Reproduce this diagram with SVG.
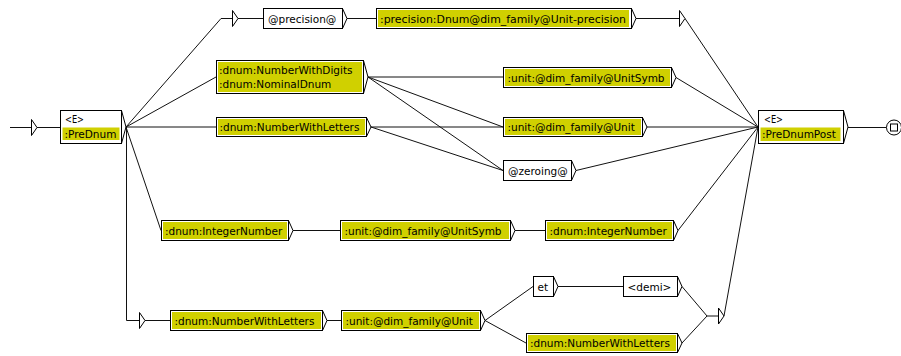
<svg xmlns="http://www.w3.org/2000/svg" width="901" height="356" viewBox="0 0 901 356">
<style>
.bx{fill:#fff;stroke:#000;stroke-width:1}
.ch{fill:none;stroke:#000;stroke-width:1}
.hl{fill:#d0d000}
.t{font-family:"DejaVu Sans",sans-serif;font-size:10.5px;fill:#000}
.e{fill:none;stroke:#111;stroke-width:1}
.tri{fill:#fff;stroke:#000;stroke-width:1}
</style>
<rect width="901" height="356" fill="#fff"/>
<g id="connectors" class="e">
<path d="M10,127.5 H31"/>
<path d="M37,127.5 H60"/>
<path d="M126,127 L221,18.5 H232"/>
<path d="M238,18.5 H263"/>
<path d="M347,18.5 H376"/>
<path d="M636,18.5 H679"/>
<path d="M685,18.5 L758,127"/>
<path d="M126,127 L216,77"/>
<path d="M126,127 H216"/>
<path d="M126,127 L161,230.5"/>
<path d="M126.5,127 V320.5 H139"/>
<path d="M145,320.5 H170"/>
<path d="M368,77 H503"/>
<path d="M368,77 L503,127"/>
<path d="M368,77 L503,170.5"/>
<path d="M371,127 H503"/>
<path d="M371,127 L503,170.5"/>
<path d="M676,77.5 L758,127"/>
<path d="M647,127 H758"/>
<path d="M576,170.5 L758,127"/>
<path d="M293,230.5 H340"/>
<path d="M515,230.5 H545"/>
<path d="M678,230.5 L758,127"/>
<path d="M327,320.5 H341"/>
<path d="M485,320.5 L533,286.5"/>
<path d="M485,320.5 L526,343"/>
<path d="M558,286.5 H623"/>
<path d="M682,286.5 L707,316 H718"/>
<path d="M682,343 L707,316"/>
<path d="M724,316 L758,127"/>
<path d="M848,127.5 H886.5"/>
</g>
<g id="init">
<polygon class="tri" points="31.5,119.5 37,127.5 31.5,135.5"/>
</g>
<g id="n_PreDnum">
<rect class="bx" x="60.5" y="110.5" width="61" height="33"/>
<path class="ch" d="M121.5,110.5 L126,127 L121.5,143.5"/>
<rect class="hl" x="62.5" y="127.5" width="57" height="12.5"/>
<text class="t" x="65" y="123" textLength="19" lengthAdjust="spacingAndGlyphs">&lt;E&gt;</text>
<text class="t" x="64.5" y="137.5">:PreDnum</text>
</g>
<g id="t_top">
<polygon class="tri" points="232.5,10.5 238,18.5 232.5,26.5"/>
</g>
<g id="n_precision_at">
<rect class="bx" x="263.5" y="8.5" width="79" height="20"/>
<path class="ch" d="M342.5,8.5 L347,18.5 L342.5,28.5"/>
<text class="t" x="268" y="22.5">@precision@</text>
</g>
<g id="n_precision">
<rect class="bx" x="376.5" y="8.5" width="255" height="20"/>
<path class="ch" d="M631.5,8.5 L636,18.5 L631.5,28.5"/>
<rect class="hl" x="378" y="10" width="251" height="17"/>
<text class="t" x="380" y="22.5" textLength="246" lengthAdjust="spacingAndGlyphs">:precision:Dnum@dim_family@Unit-precision</text>
</g>
<g id="t_top_right">
<polygon class="tri" points="679.5,10.5 685,18.5 679.5,26.5"/>
</g>
<g id="n_NumberWithDigits">
<rect class="bx" x="216.5" y="60.5" width="147" height="33"/>
<path class="ch" d="M363.5,60.5 L368,77 L363.5,93.5"/>
<rect class="hl" x="218" y="62" width="144" height="30"/>
<text class="t" x="219" y="73.5">:dnum:NumberWithDigits</text>
<text class="t" x="219" y="87.5">:dnum:NominalDnum</text>
</g>
<g id="n_NumberWithLetters">
<rect class="bx" x="216.5" y="117.5" width="150" height="19"/>
<path class="ch" d="M366.5,117.5 L371,127 L366.5,136.5"/>
<rect class="hl" x="218" y="119" width="147" height="16"/>
<text class="t" x="219.5" y="131">:dnum:NumberWithLetters</text>
</g>
<g id="n_UnitSymb">
<rect class="bx" x="503.5" y="67.5" width="168" height="20"/>
<path class="ch" d="M671.5,67.5 L676,77.5 L671.5,87.5"/>
<rect class="hl" x="505" y="69" width="165" height="17"/>
<text class="t" x="507.5" y="81.5">:unit:@dim_family@UnitSymb</text>
</g>
<g id="n_Unit">
<rect class="bx" x="503.5" y="117.5" width="139" height="19"/>
<path class="ch" d="M642.5,117.5 L647,127 L642.5,136.5"/>
<rect class="hl" x="505" y="119" width="136" height="16"/>
<text class="t" x="507.5" y="131">:unit:@dim_family@Unit</text>
</g>
<g id="n_zeroing">
<rect class="bx" x="503.5" y="160.5" width="68" height="20"/>
<path class="ch" d="M571.5,160.5 L576,170.5 L571.5,180.5"/>
<text class="t" x="508" y="174.5">@zeroing@</text>
</g>
<g id="n_PreDnumPost">
<rect class="bx" x="758.5" y="110.5" width="85" height="33"/>
<path class="ch" d="M843.5,110.5 L848,127 L843.5,143.5"/>
<rect class="hl" x="760.5" y="127.5" width="80" height="13.5"/>
<text class="t" x="764" y="123" textLength="19" lengthAdjust="spacingAndGlyphs">&lt;E&gt;</text>
<text class="t" x="762" y="137.5">:PreDnumPost</text>
</g>
<g id="final">
<circle cx="894" cy="127.5" r="7.5" fill="#fff" stroke="#000" stroke-width="1"/>
<rect x="890.5" y="124" width="7" height="7" fill="none" stroke="#000" stroke-width="1"/>
</g>
<g id="n_IntegerNumber1">
<rect class="bx" x="161.5" y="220.5" width="127" height="20"/>
<path class="ch" d="M288.5,220.5 L293,230.5 L288.5,240.5"/>
<rect class="hl" x="163" y="222" width="124" height="17"/>
<text class="t" x="165" y="234.5">:dnum:IntegerNumber</text>
</g>
<g id="n_UnitSymb2">
<rect class="bx" x="340.5" y="220.5" width="170" height="20"/>
<path class="ch" d="M510.5,220.5 L515,230.5 L510.5,240.5"/>
<rect class="hl" x="342" y="222" width="167" height="17"/>
<text class="t" x="344.5" y="234.5">:unit:@dim_family@UnitSymb</text>
</g>
<g id="n_IntegerNumber2">
<rect class="bx" x="545.5" y="220.5" width="128" height="20"/>
<path class="ch" d="M673.5,220.5 L678,230.5 L673.5,240.5"/>
<rect class="hl" x="547" y="222" width="125" height="17"/>
<text class="t" x="549.5" y="234.5">:dnum:IntegerNumber</text>
</g>
<g id="t_bottom_left">
<polygon class="tri" points="139.5,312.5 145,320.5 139.5,328.5"/>
</g>
<g id="n_NumberWithLetters_b">
<rect class="bx" x="170.5" y="310.5" width="152" height="20"/>
<path class="ch" d="M322.5,310.5 L327,320.5 L322.5,330.5"/>
<rect class="hl" x="172" y="312" width="149" height="17"/>
<text class="t" x="174.5" y="324.5">:dnum:NumberWithLetters</text>
</g>
<g id="n_Unit_b">
<rect class="bx" x="341.5" y="310.5" width="139" height="20"/>
<path class="ch" d="M480.5,310.5 L485,320.5 L480.5,330.5"/>
<rect class="hl" x="343" y="312" width="136" height="17"/>
<text class="t" x="345.5" y="324.5">:unit:@dim_family@Unit</text>
</g>
<g id="n_et">
<rect class="bx" x="533.5" y="276.5" width="20" height="20"/>
<path class="ch" d="M553.5,276.5 L558,286.5 L553.5,296.5"/>
<text class="t" x="537.5" y="290.5">et</text>
</g>
<g id="n_demi">
<rect class="bx" x="623.5" y="276.5" width="54" height="20"/>
<path class="ch" d="M677.5,276.5 L682,286.5 L677.5,296.5"/>
<text class="t" x="627.5" y="290.5">&lt;demi&gt;</text>
</g>
<g id="n_NumberWithLetters_br">
<rect class="bx" x="526.5" y="333.5" width="151" height="19"/>
<path class="ch" d="M677.5,333.5 L682,343 L677.5,352.5"/>
<rect class="hl" x="528" y="335" width="148" height="16"/>
<text class="t" x="530" y="347">:dnum:NumberWithLetters</text>
</g>
<g id="t_bottom_right">
<polygon class="tri" points="718.5,308 724,316 718.5,324"/>
</g>
</svg>
